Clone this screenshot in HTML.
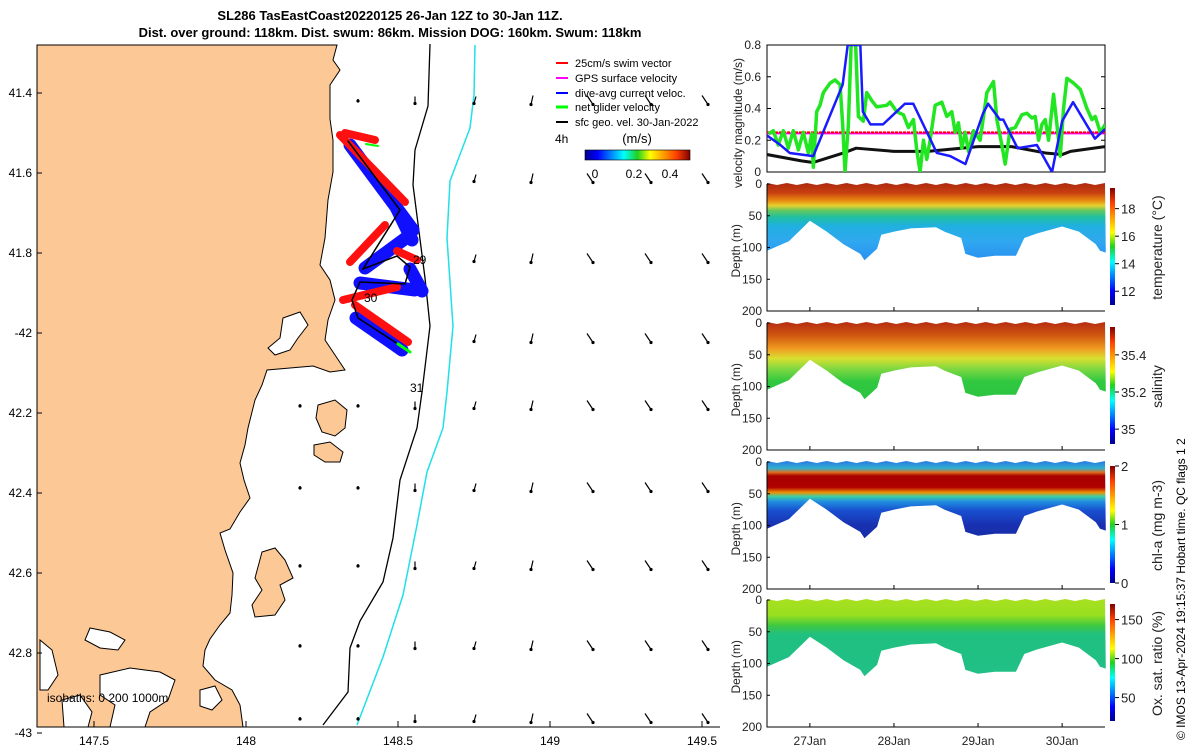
<!DOCTYPE html>
<html><head><meta charset="utf-8"><style>
html,body{margin:0;padding:0;background:#fff;}
svg{display:block;font-family:"Liberation Sans","DejaVu Sans",sans-serif;}
</style></head><body>
<svg id="fig" width="1200" height="750" viewBox="0 0 1200 750" xmlns="http://www.w3.org/2000/svg">
<defs>
<linearGradient id="jetH" x1="0" x2="1" y1="0" y2="0">
<stop offset="0" stop-color="#00008f"/><stop offset="0.12" stop-color="#0000ff"/><stop offset="0.37" stop-color="#00ffff"/><stop offset="0.5" stop-color="#20d020"/><stop offset="0.62" stop-color="#ffff00"/><stop offset="0.87" stop-color="#ff4000"/><stop offset="1" stop-color="#800000"/></linearGradient>
<linearGradient id="jetV" x1="0" x2="0" y1="1" y2="0">
<stop offset="0" stop-color="#00008f"/><stop offset="0.12" stop-color="#0000ff"/><stop offset="0.37" stop-color="#00ffff"/><stop offset="0.5" stop-color="#20d020"/><stop offset="0.62" stop-color="#ffff00"/><stop offset="0.87" stop-color="#ff4000"/><stop offset="1" stop-color="#800000"/></linearGradient>
<linearGradient id="gTemp" x1="0" x2="0" y1="0" y2="1">
<stop offset="0" stop-color="#b02a10"/><stop offset="0.07" stop-color="#c84010"/><stop offset="0.13" stop-color="#e88a10"/><stop offset="0.17" stop-color="#e8d030"/><stop offset="0.21" stop-color="#60c860"/><stop offset="0.26" stop-color="#20c0a0"/><stop offset="0.33" stop-color="#20b0e0"/><stop offset="0.45" stop-color="#30a8f0"/><stop offset="0.6" stop-color="#2890f0"/><stop offset="1" stop-color="#2070e0"/></linearGradient>
<linearGradient id="gSal" x1="0" x2="0" y1="0" y2="1">
<stop offset="0" stop-color="#b83010"/><stop offset="0.1" stop-color="#d05810"/><stop offset="0.2" stop-color="#f09a20"/><stop offset="0.28" stop-color="#d8e030"/><stop offset="0.36" stop-color="#80d840"/><stop offset="0.46" stop-color="#30c840"/><stop offset="1" stop-color="#20b840"/></linearGradient>
<linearGradient id="gChl" x1="0" x2="0" y1="0" y2="1">
<stop offset="0" stop-color="#2a80e0"/><stop offset="0.05" stop-color="#30b0d0"/><stop offset="0.08" stop-color="#e07020"/><stop offset="0.11" stop-color="#a80000"/><stop offset="0.2" stop-color="#b00000"/><stop offset="0.24" stop-color="#f09000"/><stop offset="0.27" stop-color="#40d0a0"/><stop offset="0.31" stop-color="#2090e0"/><stop offset="0.38" stop-color="#1850d0"/><stop offset="0.5" stop-color="#1830b0"/><stop offset="1" stop-color="#102090"/></linearGradient>
<linearGradient id="gOx" x1="0" x2="0" y1="0" y2="1">
<stop offset="0" stop-color="#a8e020"/><stop offset="0.12" stop-color="#98e020"/><stop offset="0.2" stop-color="#40c840"/><stop offset="0.27" stop-color="#20c080"/><stop offset="1" stop-color="#20c090"/></linearGradient>
<clipPath id="velClip"><rect x="767" y="45" width="338" height="127"/></clipPath>
</defs>

<text x="390" y="20" text-anchor="middle" font-size="13" font-weight="bold">SL286 TasEastCoast20220125 26-Jan 12Z to 30-Jan 11Z.</text>
<text x="390" y="37" text-anchor="middle" font-size="13" font-weight="bold">Dist. over ground: 118km. Dist. swum: 86km. Mission DOG: 160km. Swum: 118km</text>

<g id="map">
<polygon fill="#fcc896" stroke="#000" stroke-width="1"
points="37,45 337,45 333,60 340,70 330,85 330,119 333,140 333,172 328,200 325,238 320,265 330,280 335,300 328,320 325,340 335,355 345,370 330,372 313,366 290,368 267,370 262,385 255,400 248,428 245,445 240,463 244,480 250,498 240,512 230,529 220,533 225,550 233,573 232,595 230,613 220,625 210,639 205,650 203,666 215,680 232,690 240,705 243,727 37,727"/>
<polygon fill="#fcc896" stroke="#000" points="318,405 335,400 347,410 345,428 335,436 322,432 316,418"/>
<polygon fill="#fcc896" stroke="#000" points="314,445 330,442 343,452 340,462 325,462 314,455"/>
<polygon fill="#fcc896" stroke="#000" points="262,552 275,548 285,560 293,578 280,585 285,600 275,615 255,617 252,605 262,590 255,578"/>
<polygon fill="#fff" stroke="#000" points="283,318 300,312 308,325 298,338 290,350 275,355 268,348 280,338"/>
<polygon fill="#fff" stroke="#000" points="90,628 110,632 125,640 118,650 100,648 85,640"/>
<polygon fill="#fff" stroke="#000" points="100,675 130,668 160,672 175,680 168,700 150,712 145,727 110,727 115,705 100,695"/>
<polygon fill="#fff" stroke="#000" points="40,640 52,650 58,675 48,690 40,690"/>
<polygon fill="#fff" stroke="#000" points="62,700 80,695 92,712 88,727 64,727"/>
<polygon fill="#fff" stroke="#000" points="200,690 215,686 222,700 212,710 200,706"/>
<polyline fill="none" stroke="#000" stroke-width="1.3" points="430,44 428,106 415,150 413,185 425,278 430,326 422,392 417,428 400,480 393,538 383,582 360,621 350,648 348,692 323,725"/>
<polyline fill="none" stroke="#20e0e8" stroke-width="1.5" points="475,45 474,95 470,128 450,181 447,238 453,326 447,392 443,428 427,472 417,525 403,595 383,657 357,725"/>
<g id="track" stroke-linecap="round"></g>
<g id="arrows"></g>
<text x="413" y="264" font-size="12">29</text>
<text x="364" y="302" font-size="12">30</text>
<text x="410" y="392" font-size="12">31</text>
<text x="47" y="702" font-size="12">isobaths: 0   200 1000m</text>
<line x1="37" y1="45" x2="37" y2="727" stroke="#000"/>
<line x1="37" y1="727" x2="720" y2="727" stroke="#000"/>
<g id="mapTicks" font-size="12"></g>
<g font-size="11">
<g><line x1="556" y1="63" x2="568" y2="63" stroke="#f00" stroke-width="2"/><text x="575" y="67">25cm/s swim vector</text></g>
<g><line x1="556" y1="78" x2="568" y2="78" stroke="#f0f" stroke-width="2"/><text x="575" y="82">GPS surface velocity</text></g>
<g><line x1="556" y1="93" x2="568" y2="93" stroke="#00f" stroke-width="2"/><text x="575" y="97">dive-avg current veloc.</text></g>
<g><line x1="556" y1="107" x2="568" y2="107" stroke="#0f0" stroke-width="3"/><text x="575" y="111">net glider velocity</text></g>
<g><line x1="556" y1="122" x2="568" y2="122" stroke="#000" stroke-width="2"/><text x="575" y="126">sfc geo. vel. 30-Jan-2022</text></g>
<text x="555" y="143" font-size="12">4h</text>
<text x="637" y="143" font-size="13" text-anchor="middle">(m/s)</text>
<rect x="585" y="150" width="105" height="10" fill="url(#jetH)" stroke="#000" stroke-width="0.6"/>
<text x="595" y="178" font-size="12" text-anchor="middle">0</text>
<text x="634" y="178" font-size="12" text-anchor="middle">0.2</text>
<text x="670" y="178" font-size="12" text-anchor="middle">0.4</text>
</g>
</g>

<g id="vel"></g>
<g id="sections"></g>
<text transform="translate(1185,740) rotate(-90)" font-size="12">© IMOS 13-Apr-2024 19:15:37 Hobart time. QC flags 1  2</text>
</svg>
<script>
const NS='http://www.w3.org/2000/svg';
function mk(tag,attrs,parent){const e=document.createElementNS(NS,tag);for(const k in attrs)e.setAttribute(k,attrs[k]);parent.appendChild(e);return e;}

const blueT=[26.49,26.65,26.76,27.04,27.39,27.45,27.6,27.63,27.72,27.87,28.13,28.23,28.51,28.67,28.85,29.06,29.12,29.26,29.3,29.47,29.7,29.88,30.0,30.13,30.39,30.51];
const blueV=[0.23,0.17,0.12,0.1,0.55,0.8,0.8,0.38,0.3,0.3,0.43,0.43,0.12,0.1,0.05,0.37,0.43,0.33,0.33,0.15,0.17,0.0,0.32,0.44,0.21,0.27];
const greenT=[26.51,26.565,26.624,26.684,26.743,26.803,26.863,26.922,26.982,27.021,27.041,27.081,27.12,27.16,27.24,27.299,27.359,27.39,27.418,27.458,27.497,27.537,27.577,27.636,27.676,27.736,27.795,27.914,27.954,28.033,28.113,28.172,28.232,28.271,28.311,28.351,28.39,28.43,28.49,28.569,28.628,28.688,28.728,28.767,28.807,28.847,28.886,28.946,29.025,29.105,29.184,29.224,29.283,29.323,29.382,29.442,29.521,29.581,29.64,29.68,29.72,29.76,29.799,29.839,29.898,29.938,29.978,30.017,30.057,30.136,30.216,30.295,30.355,30.394,30.454,30.513];
const greenV=[0.24,0.26,0.17,0.26,0.15,0.26,0.14,0.25,0.12,0.24,0.03,0.38,0.42,0.5,0.56,0.58,0.55,0.3,0.0,0.3,0.9,0.9,0.35,0.32,0.5,0.45,0.41,0.42,0.44,0.38,0.36,0.28,0.33,0.14,0.0,0.2,0.08,0.2,0.42,0.44,0.35,0.38,0.25,0.31,0.15,0.25,0.13,0.26,0.2,0.5,0.57,0.33,0.17,0.05,0.27,0.28,0.36,0.37,0.34,0.35,0.2,0.3,0.33,0.2,0.49,0.3,0.1,0.4,0.59,0.56,0.52,0.4,0.33,0.35,0.25,0.3];
const blackT=[26.49,26.9,27.04,27.4,27.55,28.0,28.4,29.0,29.4,29.8,30.0,30.1,30.51];
const blackV=[0.11,0.07,0.06,0.12,0.15,0.13,0.13,0.16,0.16,0.12,0.11,0.13,0.16];
const swimV=0.25;
const velTicks=[0,0.2,0.4,0.6,0.8];
const dayTicks=[27,28,29,30];
const dayLabels=['27Jan','28Jan','29Jan','30Jan'];
const floorT=[26.49,26.75,27.0,27.2,27.4,27.6,27.65,27.8,27.85,28.0,28.2,28.5,28.6,28.8,28.85,29.0,29.2,29.45,29.55,29.7,30.0,30.2,30.4,30.45,30.52];
const floorD=[105,90,58,75,95,110,120,102,80,75,70,68,75,85,110,116,113,113,85,78,67,75,95,105,108];
const depthTicks=[0,50,100,150,200];
const tempTicks=[12,14,16,18], salTicks=[35,35.2,35.4], chlTicks=[0,1,2], oxTicks=[50,100,150];

const X0=767,X1=1105,T0=26.49,T1=30.51;
const tx=t=>X0+(t-T0)/(T1-T0)*(X1-X0);
const VY0=172,VY1=45;
const vy=v=>VY0-v/0.8*(VY0-VY1);

const vel=document.getElementById('vel');
mk('rect',{x:X0,y:VY1,width:X1-X0,height:VY0-VY1,fill:'#fff',stroke:'#000','stroke-width':1},vel);
const vc=mk('g',{'clip-path':'url(#velClip)'},vel);
let l=mk('line',{x1:X0,x2:X1,y1:vy(swimV)+1,y2:vy(swimV)+1,stroke:'#f0f','stroke-width':2},vc);


l=mk('line',{x1:X0,x2:X1,y1:vy(swimV),y2:vy(swimV),stroke:'#f00','stroke-width':2,'stroke-dasharray':'3,1'},vc);


function series(T,V,col,w,name){const p=mk('polyline',{points:T.map((t,i)=>tx(t)+','+vy(V[i])).join(' '),fill:'none',stroke:col,'stroke-width':w,'stroke-linejoin':'round'},vc);

}
series(blackT,blackV,'#111',3,'geo-velocity-line');
series(greenT,greenV,'#22e622',3.5,'net-glider-velocity-line');
series(blueT,blueV,'#1a1aff',2.5,'dive-avg-current-line');
velTicks.forEach(v=>{const t=mk('text',{x:X0-6,y:vy(v)+4,'text-anchor':'end','font-size':12,fill:'#222'},vel);t.textContent=String(v);


mk('line',{x1:X0,x2:X0+4,y1:vy(v),y2:vy(v),stroke:'#000'},vel);mk('line',{x1:X1,x2:X1-4,y1:vy(v),y2:vy(v),stroke:'#000'},vel);});
const vt=mk('text',{transform:'translate(742,188) rotate(-90)','font-size':12,fill:'#222'},vel);vt.textContent='velocity magnitude (m/s)';



const sec=document.getElementById('sections');
const panels=[
 {top:184,grad:'gTemp',name:'temperature',title:'temperature (°C)',ticks:tempTicks,min:11,max:19.5},
 {top:323,grad:'gSal',name:'salinity',title:'salinity',ticks:salTicks,min:34.92,max:35.55},
 {top:462,grad:'gChl',name:'chlorophyll',title:'chl-a (mg m-3)',ticks:chlTicks,min:0,max:2},
 {top:600,grad:'gOx',name:'oxygen',title:'Ox. sat. ratio (%)',ticks:oxTicks,min:20,max:170}
];
const H=127;
panels.forEach((p,pi)=>{
 const g=mk('g',{},sec);
 
 
 const dy=d=>p.top+d/200*H;
 const gr=document.getElementById(p.grad);
 const ng=gr.cloneNode(true);ng.id=p.grad+'-'+pi;ng.setAttribute('gradientUnits','userSpaceOnUse');
 ng.setAttribute('x1',0);ng.setAttribute('x2',0);ng.setAttribute('y1',p.top);ng.setAttribute('y2',p.top+H);
 document.querySelector('defs').appendChild(ng);
 const pts=[tx(T0)+','+(p.top-1)];
 for(let i=0;i<=34;i++){const x=X0+i*(X1-X0)/34;pts.push(x.toFixed(1)+','+(p.top-1+(i%2?2:0)));}
 for(let i=floorT.length-1;i>=0;i--)pts.push(tx(floorT[i]).toFixed(1)+','+dy(floorD[i]).toFixed(1));
 const poly=mk('polygon',{points:pts.join(' '),fill:'url(#'+ng.id+')'},g);
 
 
 mk('polyline',{points:X0+','+p.top+' '+X0+','+(p.top+H)+' '+X1+','+(p.top+H),fill:'none',stroke:'#000'},g);
 depthTicks.forEach(d=>{const t=mk('text',{x:X0-5,y:dy(d)+4,'text-anchor':'end','font-size':12,fill:'#222'},g);t.textContent=d;
 
 
 mk('line',{x1:X0,x2:X0+3,y1:dy(d),y2:dy(d),stroke:'#000'},g);});
 const yt=mk('text',{transform:'translate(740,'+(p.top+H/2+30)+') rotate(-90)','font-size':12,fill:'#222'},g);yt.textContent='Depth (m)';
 
 
 dayTicks.forEach(t=>mk('line',{x1:tx(t),x2:tx(t),y1:p.top+H,y2:p.top+H-4,stroke:'#000'},g));
 const cb0=p.top+4,cb1=p.top+H-6;
 const cb=mk('rect',{x:1110,y:cb0,width:5,height:cb1-cb0,fill:'url(#jetV)'},g);
 
 
 p.ticks.forEach(v=>{const y=cb1-(v-p.min)/(p.max-p.min)*(cb1-cb0);mk('line',{x1:1115,x2:1119,y1:y,y2:y,stroke:'#000'},g);
 const t=mk('text',{x:1121,y:y+5,'font-size':13,fill:'#222'},g);t.textContent=String(v);
 
 });
 const ct=mk('text',{transform:'translate(1162,'+(p.top+H/2)+') rotate(-90)','text-anchor':'middle','font-size':14,fill:'#222'},g);ct.textContent=p.title;
 
 
});
dayTicks.forEach((t,i)=>{const e=mk('text',{x:tx(t),y:745,'text-anchor':'middle','font-size':12,fill:'#222'},sec);e.textContent=dayLabels[i];

});

const lonTicks=[147.5,148,148.5,149,149.5], lonLabels=['147.5','148','148.5','149','149.5'];
const latTicks=[41.4,41.6,41.8,42,42.2,42.4,42.6,42.8,43], latLabels=['41.4','41.6','41.8','-42','42.2','42.4','42.6','42.8','-43'];
const lx=lon=>94+(lon-147.5)*304, ly=lat=>93+(lat-41.4)*400;
const mt=document.getElementById('mapTicks');
lonTicks.forEach((v,i)=>{mk('line',{x1:lx(v),x2:lx(v),y1:727,y2:721,stroke:'#000'},mt);const t=mk('text',{x:lx(v),y:745,'text-anchor':'middle'},mt);t.textContent=lonLabels[i];

});
latTicks.forEach((v,i)=>{mk('line',{x1:37,x2:42,y1:ly(v),y2:ly(v),stroke:'#000'},mt);const t=mk('text',{x:32,y:ly(v)+4,'text-anchor':'end'},mt);t.textContent=latLabels[i];

});

const tr=document.getElementById('track');
const redSegs=[[340,135,405,202],[350,262,385,225],[343,300,397,287],[355,305,408,342],[397,251,417,260],[345,133,375,140]];
const blueSegs=[[350,145,413,230],[365,268,410,235],[360,283,415,290],[356,318,402,350],[410,269,422,291],[395,205,412,240]];
blueSegs.forEach(s=>mk('line',{x1:s[0],y1:s[1],x2:s[2],y2:s[3],stroke:'#1010ff','stroke-width':13},tr));
redSegs.forEach(s=>mk('line',{x1:s[0],y1:s[1],x2:s[2],y2:s[3],stroke:'#ff1010','stroke-width':8},tr));
mk('polyline',{points:'348,141 400,210 363,269 397,256 410,267 405,284 360,282 352,300 358,318 398,344',fill:'none',stroke:'#000','stroke-width':1.5},tr);
mk('line',{x1:398,y1:344,x2:410,y2:352,stroke:'#0f0','stroke-width':3},tr);
mk('line',{x1:366,y1:144,x2:378,y2:146,stroke:'#0f0','stroke-width':2},tr);

const ar=document.getElementById('arrows');
const cols=[300,358,415,475,532,590,648,705], rows=[100,178,258,338,405,487,565,645,718];
rows.forEach((y,ri)=>cols.forEach((x,ci)=>{
 if(x<335 && y<380) return; if(x<260) return;
 if(y<360 && x>340 && x<420 && ri>0 && ri<4) return;
 const dx=ci>4?3:(ci>2?-1:0), len=ci>3?9:(ci>1?7:2);
 mk('line',{x1:x-dx,y1:y-len/2,x2:x+dx,y2:y+len/2,stroke:'#000','stroke-width':1.2},ar);
 mk('circle',{cx:x+dx,cy:y+len/2,r:1.6,fill:'#000'},ar);
}));
</script>
</body></html>
